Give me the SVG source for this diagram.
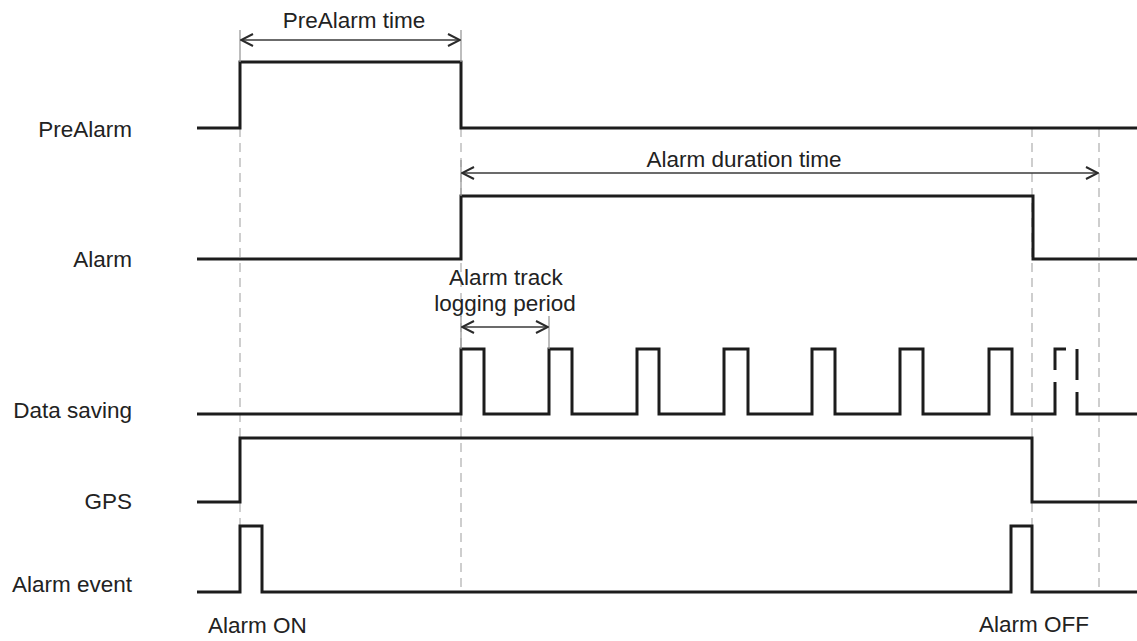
<svg xmlns="http://www.w3.org/2000/svg" width="1137" height="641" viewBox="0 0 1137 641">
<defs>
<marker id="ah" viewBox="0 0 14 14" refX="13" refY="7" markerWidth="14" markerHeight="14" markerUnits="userSpaceOnUse" orient="auto-start-reverse">
<path d="M1,1 L13,7 L1,13" fill="none" stroke="#2a2a2a" stroke-width="2"/>
</marker>
</defs>
<style>
.sig{fill:none;stroke:#1c1c1c;stroke-width:3;stroke-linejoin:miter}
.dash{fill:none;stroke:#b4b4b4;stroke-width:1.3;stroke-dasharray:9,6}
.tick{fill:none;stroke:#9a9a9a;stroke-width:1.3}
.dim{fill:none;stroke:#3a3a3a;stroke-width:1.4}
text{font-family:"Liberation Sans",Arial,sans-serif;font-size:22.5px;fill:#222}
.lbl{text-anchor:end}
.mid{text-anchor:middle}
</style>
<rect width="1137" height="641" fill="#ffffff"/>
<g id="guides">
<line class="dash" x1="240" y1="128" x2="240" y2="526"/>
<line class="dash" x1="461" y1="128" x2="461" y2="592"/>
<line class="dash" x1="1032" y1="128" x2="1032" y2="526"/>
<line class="dash" x1="1099" y1="128" x2="1099" y2="592"/>
</g>
<g id="labels">
<text class="lbl" x="132" y="137">PreAlarm</text>
<text class="lbl" x="132" y="267">Alarm</text>
<text class="lbl" x="132" y="418">Data saving</text>
<text class="lbl" x="132" y="509">GPS</text>
<text class="lbl" x="132" y="592">Alarm event</text>
<text x="208" y="633">Alarm ON</text>
<text x="979" y="632">Alarm OFF</text>
</g>
<g id="sig-prealarm">
<polyline class="sig" points="197,128 240,128 240,62 461,62 461,128 1137,128"/>
</g>
<g id="sig-alarm">
<polyline class="sig" points="197,259 461,259 461,196 1033,196 1033,259 1137,259"/>
</g>
<g id="sig-datasaving">
<polyline class="sig" points="197,414 461,414 461,349 484,349 484,414 549,414 549,349 572,349 572,414 637,414 637,349 659,349 659,414 724,414 724,349 748,349 748,414 812,414 812,349 835,349 835,414 900,414 900,349 923,349 923,414 989,414 989,349 1012,349 1012,414 1055,414 1055,382"/>
<polyline class="sig" points="1055,370 1055,349 1066,349"/>
<line class="sig" x1="1077" y1="349" x2="1077" y2="380"/>
<polyline class="sig" points="1077,392 1077,414 1137,414"/>
</g>
<g id="sig-gps">
<polyline class="sig" points="197,502 240,502 240,438 1032,438 1032,502 1137,502"/>
</g>
<g id="sig-alarmevent">
<polyline class="sig" points="197,592 240,592 240,526 262,526 262,592 1011,592 1011,526 1032,526 1032,592 1137,592"/>
</g>
<g id="connectors">
<line class="tick" x1="240" y1="30" x2="240" y2="62"/>
<line class="tick" x1="461" y1="30" x2="461" y2="62"/>
<line class="dim" x1="241" y1="40" x2="460" y2="40" marker-start="url(#ah)" marker-end="url(#ah)"/>
<text class="mid" x="354" y="28">PreAlarm time</text>
<line class="tick" x1="461" y1="160" x2="461" y2="196"/>
<line class="dim" x1="462" y1="173" x2="1098" y2="173" marker-start="url(#ah)" marker-end="url(#ah)"/>
<text class="mid" x="744" y="167">Alarm duration time</text>
<line class="tick" x1="461" y1="316" x2="461" y2="349"/>
<line class="tick" x1="549" y1="316" x2="549" y2="349"/>
<line class="dim" x1="462" y1="327" x2="548" y2="327" marker-start="url(#ah)" marker-end="url(#ah)"/>
<text class="mid" x="506" y="285">Alarm track</text>
<text class="mid" x="505" y="311">logging period</text>
</g>
</svg>
